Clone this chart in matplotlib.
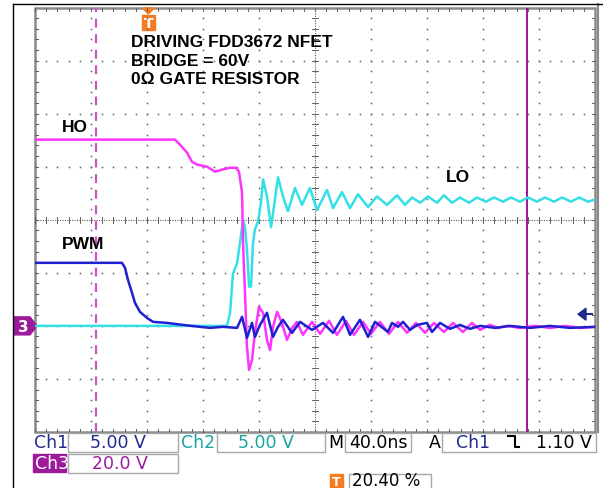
import matplotlib
matplotlib.use('Agg')
import matplotlib.pyplot as plt
import numpy as np
from matplotlib.patches import Rectangle, Polygon

# ---------------- data (time in ns from left screen edge, volts) ----------------
NS_PER_DIV = 40.0
CH1_V_PER_DIV = 5.0   # PWM
CH2_V_PER_DIV = 5.0   # LO
CH3_V_PER_DIV = 20.0  # HO
GND_DIV = -2.0        # ground level of all channels (divisions from centre)

pwm_t = [0, 62.1, 64.3, 66.4, 69.3, 71.4, 75.0, 80.0, 84.3, 94.3,
         105.7, 117.9, 125.0, 134.3, 144.3, 147.9, 151.4, 155.0, 157.1, 160.7,
         165.7, 170.0, 173.6, 177.1, 183.6, 189.3, 197.9, 205.7, 212.9, 220.0,
         225.0, 232.1, 237.9, 242.9, 252.1, 255.0, 259.3, 262.9, 267.9, 272.9,
         280.0, 283.6, 289.3, 296.4, 303.6, 310.7, 317.9, 328.6, 339.3, 353.6,
         367.9, 382.1, 400.0]
pwm_v = [5.94, 5.94, 5.47, 4.34, 3.11, 2.17, 1.32, 0.75, 0.38, 0.28,
         0.09, -0.09, -0.19, -0.09, -0.19, 0.85, -1.13, 0.28, -1.04, 0.09,
         1.23, -1.04, -0.09, 0.57, -0.66, 0.38, -0.38, 0.28, -0.66, 0.85,
         -0.85, 0.57, -1.04, 0.38, -0.57, 0.28, -0.09, 0.38, -0.38, 0.09,
         0.28, -0.57, 0.28, -0.28, 0.09, -0.28, 0.0, -0.19, 0.0, -0.19,
         0.0, -0.19, -0.09]

lo_t = [0, 137.1, 139.3, 141.4, 144.3, 146.4, 148.6, 150.0, 151.4, 152.9,
        154.3, 155.7, 157.1, 159.3, 161.4, 162.9, 165.7, 168.6, 173.6, 177.1,
        180.7, 185.7, 190.7, 196.4, 201.4, 208.6, 212.9, 219.3, 225.0, 230.7,
        237.9, 244.3, 251.4, 258.6, 264.3, 269.3, 275.0, 280.7, 287.1, 292.1,
        297.9, 303.6, 310.0, 315.7, 322.1, 327.9, 334.3, 340.0, 346.4, 352.1,
        358.6, 364.3, 370.7, 376.4, 382.9, 388.6, 395.0, 400.0]
lo_v = [0, 0, 1.2, 4.9, 5.9, 7.8, 10.0, 9.3, 7.2, 3.7,
        3.7, 7.8, 9.1, 9.8, 11.6, 13.8, 12.2, 9.3, 14.0, 12.2,
        10.8, 13.0, 11.4, 13.0, 10.9, 12.8, 11.1, 12.6, 11.1, 12.4,
        11.2, 12.2, 11.4, 12.3, 11.4, 12.1, 11.6, 12.2, 11.6, 12.3,
        11.6, 12.1, 11.6, 12.1, 11.7, 12.1, 11.7, 12.1, 11.7, 12.1,
        11.7, 12.1, 11.7, 12.1, 11.7, 12.1, 11.7, 11.9]

ho_t = [0, 100.0, 103.6, 108.6, 112.1, 115.7, 122.9, 128.6, 133.6, 139.3,
        143.6, 145.7, 147.9, 148.6, 150.0, 151.4, 152.9, 155.0, 157.1, 160.0,
        162.9, 165.7, 167.9, 170.0, 172.9, 176.4, 180.0, 183.6, 187.1,
        191.4, 197.9, 203.6, 210.0, 215.7, 222.1, 227.9, 234.3, 240.0, 246.4,
        252.9, 259.3, 265.7, 272.1, 278.6, 285.0, 292.1, 298.6, 305.7, 312.1,
        317.9, 325.0, 330.7, 337.1, 346.4, 357.1, 367.9, 378.6, 389.3, 400.0]
ho_v = [70.2, 70.2, 68.3, 65.3, 61.9, 60.8, 60.0, 58.1, 58.9, 59.6,
        59.6, 58.1, 50.2, 31.3, 12.5, -7.9, -16.6, -12.8, -2.6, 7.2,
        4.9, -5.3, -9.1, -0.4, 5.3, 1.1, -5.3, -0.8, 1.5,
        -3.4, 1.5, -3.0, 1.9, -3.4, 1.9, -3.4, 1.5, -3.0, 1.5,
        -3.0, 1.5, -2.6, 1.1, -2.6, 1.1, -2.3, 1.1, -2.3, 1.1,
        -1.5, 0.4, -0.8, 0.0, -0.8, 0.0, -0.8, 0.0, -0.8, -0.4]

cursor1_t = 43.6      # dashed cursor
cursor2_t = 351.4     # solid cursor
trigger_pos_t = 81.0  # 20.40 % of record
trigger_level_v = 1.10

title_lines = ["DRIVING FDD3672 NFET", "BRIDGE = 60V", "0\u03a9 GATE RESISTOR"]
status = {"ch1": "5.00 V", "ch2": "5.00 V", "ch3": "20.0 V", "time": "40.0ns",
          "trig": "1.10 V", "pos": "20.40 %"}

# ---------------- figure ----------------
W, H = 603, 489
fig = plt.figure(figsize=(W / 100, H / 100), dpi=100)
fig.patch.set_facecolor('white')

ov = fig.add_axes([0, 0, 1, 1])
ov.set_xlim(0, W)
ov.set_ylim(H, 0)
ov.axis('off')

gx0, gx1, gy0, gy1 = 35, 595, 8.5, 433
ax = fig.add_axes([gx0 / W, 1 - gy1 / H, (gx1 - gx0) / W, (gy1 - gy0) / H])
ax.set_xlim(0, 10)
ax.set_ylim(-4, 4)
ax.axis('off')
ax.patch.set_alpha(0)


def tx(t):
    return np.asarray(t, dtype=float) / NS_PER_DIV


def vy(v, scale):
    return np.asarray(v, dtype=float) / scale + GND_DIV


# graticule
dot_c = '#606060'
minor = np.arange(0, 10.001, 0.2)
minor_y = np.arange(-4, 4.001, 0.2)
for i in range(1, 10):
    if i == 5:
        continue
    ax.plot(np.full(minor_y.size, i), minor_y, ls='none', marker='s', ms=1.1, mew=0, color=dot_c)
for j in range(-3, 4):
    if j == 0:
        continue
    ax.plot(minor, np.full(minor.size, j), ls='none', marker='s', ms=1.1, mew=0, color=dot_c)
# centre cross
ax.plot([0, 10], [0, 0], ls=(0, (1, 1.2)), lw=0.8, color=dot_c)
ax.plot([5, 5], [-4, 4], ls=(0, (1, 1.2)), lw=0.8, color=dot_c)
for x in minor:
    ax.plot([x, x], [-0.06, 0.06], lw=0.7, color=dot_c)
for y in minor_y:
    ax.plot([4.945, 5.055], [y, y], lw=0.7, color=dot_c)
# border ticks
for x in minor:
    ax.plot([x, x], [4, 3.94], lw=0.7, color=dot_c)
    ax.plot([x, x], [-4, -3.94], lw=0.7, color=dot_c)
for y in minor_y:
    ax.plot([0, 0.055], [y, y], lw=0.7, color=dot_c)
    ax.plot([10, 9.945], [y, y], lw=0.7, color=dot_c)

# cursors
ax.plot([tx(cursor1_t)] * 2, [-4, 4], color='#cc55cc', lw=1.6, ls=(0, (4, 3)))
ax.plot([tx(cursor2_t)] * 2, [-4, 4], color='#990099', lw=1.3)

# traces
ax.plot(tx(lo_t), vy(lo_v, CH2_V_PER_DIV), color='#33e0e6', lw=1.8, solid_joinstyle='round')
ax.plot(tx(ho_t), vy(ho_v, CH3_V_PER_DIV), color='#ff33ff', lw=1.8, solid_joinstyle='round')
ax.plot(tx(pwm_t), vy(pwm_v, CH1_V_PER_DIV), color='#2020d0', lw=1.8, solid_joinstyle='round')

# annotations
bold = dict(family='Liberation Sans', fontweight='bold', fontsize=12.5, color='black')
for k, line in enumerate(title_lines):
    ax.text(1.71, 3.35 - k * 0.34, line, va='center', ha='left', **bold)
ax.text(0.48, 1.75, "HO", va='center', ha='left', **bold)
ax.text(0.48, -0.45, "PWM", va='center', ha='left', **bold)
ax.text(7.33, 0.82, "LO", va='center', ha='left', **bold)

# graticule border / frame (pixel overlay)
ov.add_patch(Rectangle((gx0, gy0), gx1 - gx0, gy1 - gy0, fill=False, ec='#8a8a8a', lw=1.8))
ov.plot([598, 598], [5, 433], color='#8a8a8a', lw=1.5)
ov.plot([12.5, 12.5], [5, H], color='black', lw=1.0)
ov.plot([12.5, W], [5, 5], color='black', lw=1.0)

# trigger position marker (top)
tpx = gx0 + tx(trigger_pos_t) * (gx1 - gx0) / 10
orange = '#f47b20'
ov.add_patch(Polygon([[tpx - 6, 9], [tpx + 6, 9], [tpx, 15]], closed=True, color=orange))
ov.add_patch(Rectangle((tpx - 6.5, 16), 13, 15, color=orange))
ov.text(tpx, 24, "T", color='white', fontsize=10, fontweight='bold', ha='center', va='center',
        family='DejaVu Sans')

# channel 3 ground marker
gpy = gy0 + (4 - GND_DIV) * (gy1 - gy0) / 8
purple = '#9b1b9b'
ov.add_patch(Polygon([[14, gpy - 9], [30, gpy - 9], [37, gpy], [30, gpy + 9], [14, gpy + 9]],
                     closed=True, color=purple))
ov.text(23, gpy + 0.5, "3", color='white', fontsize=11, fontweight='bold', ha='center', va='center')

# trigger level arrow (right)
tly = gy0 + (4 - vy(trigger_level_v, CH1_V_PER_DIV)) * (gy1 - gy0) / 8
navy = '#1f2a8f'
ov.add_patch(Polygon([[578, tly], [586, tly - 6], [586, tly + 6]], closed=True, color=navy))
ov.plot([585, 592], [tly, tly], color=navy, lw=1.5)

# status bar
sfont = dict(family='DejaVu Sans', fontsize=12.5, va='center')
teal = '#1aa3a3'
box_ec = '#a8a8a8'


def box(x0, y0, x1, y1):
    ov.add_patch(Rectangle((x0, y0), x1 - x0, y1 - y0, fill=False, ec=box_ec, lw=1.0))


r1 = 443
box(68, 434, 178, 453)
box(217, 434, 325, 453)
box(345, 434, 411, 453)
box(442, 434, 596, 453)
ov.text(34, r1, "Ch1", color=navy, ha='left', **sfont)
ov.text(118, r1, status["ch1"], color=navy, ha='center', **sfont)
ov.text(181, r1, "Ch2", color=teal, ha='left', **sfont)
ov.text(266, r1, status["ch2"], color=teal, ha='center', **sfont)
ov.text(328, r1, "M", color='black', ha='left', **sfont)
ov.text(378, r1, status["time"], color='black', ha='center', **sfont)
ov.text(429, r1, "A", color='black', ha='left', **sfont)
ov.text(456, r1, "Ch1", color=navy, ha='left', **sfont)
ov.plot([508, 515, 515, 519], [437, 437, 448, 448], color='black', lw=1.5)
ov.text(592, r1, status["trig"], color='black', ha='right', **sfont)

r2 = 464
ov.add_patch(Rectangle((33, 455), 33, 18, color=purple))
ov.text(35, r2, "Ch3", color='white', ha='left', **sfont)
box(68, 455, 178, 474)
ov.text(120, r2, status["ch3"], color=purple, ha='center', **sfont)

ov.add_patch(Rectangle((330, 475), 13, 14, color=orange))
ov.text(336.5, 482.5, "T", color='white', fontsize=9, fontweight='bold', ha='center', va='center')
box(349, 475, 431, 492)
ov.text(352, 481.5, status["pos"], color='black', ha='left',
        family='DejaVu Sans', fontsize=12, va='center')

fig.savefig('out.png', dpi=100, facecolor='white')
